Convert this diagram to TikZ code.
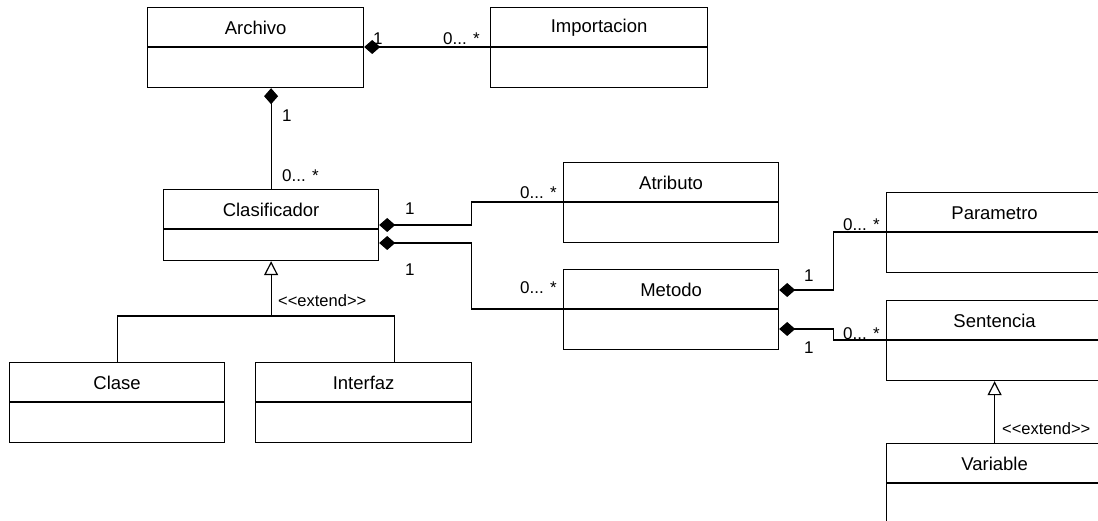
\documentclass[tikz,border=0pt]{standalone}
\usepackage{fontspec}
\setmainfont{Liberation Sans}[Ligatures=TeXOff]
\usetikzlibrary{arrows.meta,calc}

\tikzset{
  classbox/.style={draw, line width=1.2pt, anchor=north west, inner sep=0pt, fill=white},
  ctitle/.style={font=\fontsize{18.5}{22}\selectfont, inner sep=0pt},
  mult/.style={font=\fontsize{17}{20}\selectfont, inner sep=0pt, anchor=base west},
  stereo/.style={font=\fontsize{16.5}{19}\selectfont, inner sep=0pt, anchor=base west},
  conn/.style={line width=1.2pt},
  comp/.style={conn, {Diamond[length=16pt,width=14pt,fill=black]}-},
  gen/.style={conn, -{Triangle[open, length=14pt, width=14pt, fill=white]}},
}

% UML class: name, x, y (top-left), width, height, title
\newcommand{\umlclass}[6]{%
  \node[classbox, minimum width=#4pt, minimum height=#5pt] (#1) at (#2,#3) {};
  \node[ctitle] (#1-title) at ($(#1.north)+(0,21)$) {#6};
  \draw[line width=1.2pt] ([yshift=-40pt]#1.north west) -- ([yshift=-40pt]#1.north east);
}

\begin{document}
\begin{tikzpicture}[x=1pt,y=-1pt]
  \useasboundingbox (0,0) rectangle (1098,521);
  \clip (0,0) rectangle (1098,521);

  % classes
  \umlclass{archivo}{147}{7}{216}{80}{Archivo}
  \umlclass{importacion}{490}{7}{217}{80}{Importacion}
  \umlclass{clasif}{163}{189}{215}{71}{Clasificador}
  \umlclass{atributo}{563}{162}{215}{80}{Atributo}
  \umlclass{metodo}{563}{269}{215}{80}{Metodo}
  \umlclass{parametro}{886}{192}{216}{80}{Parametro}
  \umlclass{sentencia}{886}{300}{216}{80}{Sentencia}
  \umlclass{variable}{886}{443}{216}{80}{Variable}
  \umlclass{clase}{9}{362}{215}{80}{Clase}
  \umlclass{interfaz}{255}{362}{216}{80}{Interfaz}

  % compositions
  \draw[comp] ([yshift=-40pt]archivo.north east) -- ([yshift=-40pt]importacion.north west);
  \draw[comp] (archivo.south -| clasif.north) -- (clasif.north);
  \draw[comp] ([yshift=-36pt]clasif.north east) -- ++(92,0) |- ([yshift=-40pt]atributo.north west);
  \draw[comp] ([yshift=-54pt]clasif.north east) -- ++(92,0) |- ([yshift=-40pt]metodo.north west);
  \draw[comp] ([yshift=-21pt]metodo.north east) -- ++(54,0) |- ([yshift=-40pt]parametro.north west);
  \draw[comp] ([yshift=-60pt]metodo.north east) -- ++(54,0) |- ([yshift=-40pt]sentencia.north west);

  % generalizations
  \coordinate (gj) at (clasif.south |- 0,316);
  \draw[conn] (clase.north) |- ([xshift=31pt]interfaz.north |- gj) -- ([xshift=31pt]interfaz.north);
  \draw[gen] (gj) -- (clasif.south);
  \draw[gen] (variable.north) -- (sentencia.south);

  % multiplicities
  \node[mult] (m1) at (373,45) {1};
  \node[mult] (m2) at (443,45) {0... *};
  \node[mult] (m3) at (282,122) {1};
  \node[mult] (m4) at (282,182) {0... *};
  \node[mult] (m5) at (405,215) {1};
  \node[mult] (m6) at (520,199) {0... *};
  \node[mult] (m7) at (405,276) {1};
  \node[mult] (m8) at (520,294) {0... *};
  \node[mult] (m9) at (804,282) {1};
  \node[mult] (m10) at (843,231) {0... *};
  \node[mult] (m11) at (804,353) {1};
  \node[mult] (m12) at (843,340) {0... *};

  % stereotypes
  \node[stereo] (s1) at (278,307) {<\kern0pt<extend>\kern0pt>};
  \node[stereo] (s2) at (1002,434) {<\kern0pt<extend>\kern0pt>};
\end{tikzpicture}
\end{document}
